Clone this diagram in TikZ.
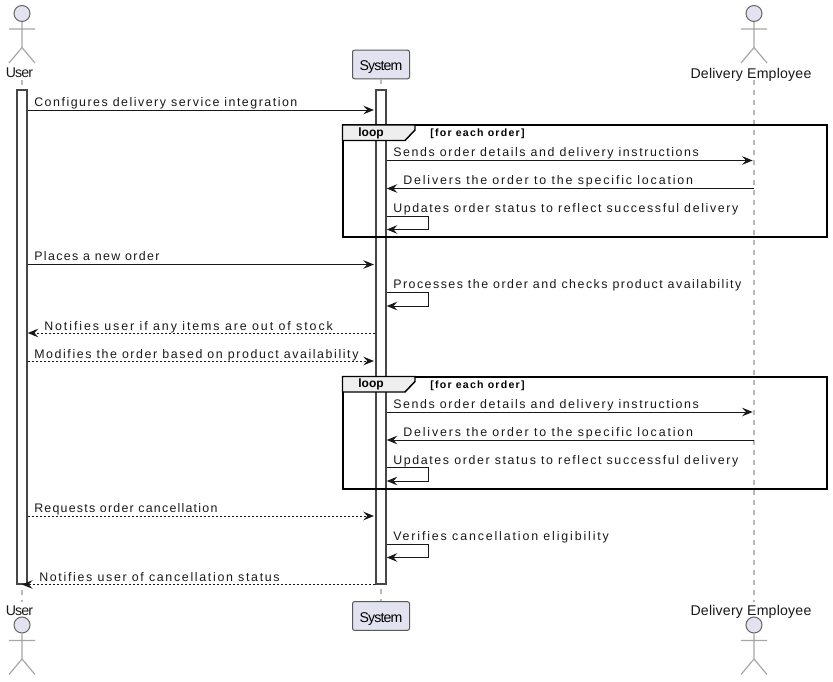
\documentclass[tikz,border=0pt]{standalone}
\usepackage{fontspec}
\setmainfont{Liberation Sans}
\newfontfamily\msgfont{Liberation Sans}[LetterSpace=12]
\newfontfamily\actorfont{Liberation Sans}[LetterSpace=-6]
\newfontfamily\actorwide{Liberation Sans}[LetterSpace=1.4]
\usetikzlibrary{arrows.meta, positioning}
\definecolor{actorfill}{HTML}{E2E2F0}
\definecolor{inkline}{HTML}{181818}
\definecolor{tabfill}{HTML}{EEEEEE}
\tikzset{x=0.75pt, y=-0.75pt,
msg/.style={draw=inkline, line width=0.75pt, -{Stealth[length=8pt, width=6.5pt, inset=3pt]}},
reply/.style={msg, dash pattern=on 1.5pt off 1.5pt},
tolife/.style={shorten >=1pt},
msgtext/.style={font=\msgfont\fontsize{9.3}{11}\selectfont\addfontfeature{LetterSpace=#1}, anchor=base west, inner sep=0pt, text=inkline},
msgtext/.default=12,
lifeline/.style={draw=gray!55, line width=1pt, dash pattern=on 3.75pt off 3.75pt},
actorlabel/.style={font=\actorfont\fontsize{10.6}{12}\selectfont, inner sep=0pt, text height=8.5pt, text depth=0pt, minimum height=12pt, text=inkline},
sysbox/.style={draw=gray!70!black, fill=actorfill, rounded corners=1.5pt, line width=0.75pt, minimum width=42.75pt, minimum height=21.5pt, inner sep=0pt, text height=9pt, text depth=0pt, font=\actorfont\fontsize{10.6}{12}\selectfont},
bar/.style={draw=inkline!80, fill=white, line width=1.1pt, minimum width=7.5pt, minimum height=370.5pt, inner sep=0pt},
frameline/.style={draw=black, line width=1.5pt},
looptab/.style={draw=black, fill=tabfill, line width=1.1pt},
loopword/.style={font=\bfseries\fontsize{9}{11}\selectfont, inner sep=0pt},
guardtext/.style={font=\msgfont\bfseries\fontsize{7.9}{10}\selectfont, anchor=base west, inner sep=0pt},
stickman/.pic={
\node[circle, draw=gray!80!black, fill=actorfill, line width=0.75pt, minimum size=12pt, inner sep=0pt] (-head) at (0,0) {};
\draw[gray!70, line width=0.9pt] (-head.south) -- (0,34) (-13,15.5) -- (13,15.5) (-13,49.5) -- (0,34) -- (13,49.5);
}}

\begin{document}
\begin{tikzpicture}
    \useasboundingbox (0,0) rectangle (833,682);

    % actors at the top and the foot
    \pic (usertop) at (22,13.5) {stickman};
    \pic (emptop) at (754,13.5) {stickman};
    \pic (userfoot) at (22,625) {stickman};
    \pic (empfoot) at (754,625) {stickman};
    \node[actorlabel] (userhead) at (19.5,72) {User};
    \node[actorlabel, font=\actorwide\fontsize{10.6}{12}\selectfont] (emphead) at (751,72.5) {Delivery Employee};
    \node[actorlabel] (userend) at (19.5,610) {User};
    \node[actorlabel, font=\actorwide\fontsize{10.6}{12}\selectfont] (empend) at (751,610) {Delivery Employee};
    \node[sysbox] (syshead) at (381,64.5) {System};
    \node[sysbox] (sysend) at (381,616) {System};

    % lifelines
    \draw[lifeline] (22,80) coordinate (usertopend) -- (usertopend |- userend.north);
    \draw[lifeline] (syshead) -- (sysend);
    \draw[lifeline] (754,80) coordinate (emptopend) -- (emptopend |- empend.north);

    % activation bars
    \node[bar] (userbar) at (22,337) {};
    \node[bar] (sysbar) at (381,337) {};

    % message rows
    \coordinate (r1) at (0,110);
    \coordinate (r2) at (0,264.5);
    \coordinate (r3) at (0,292);
    \coordinate (r4) at (0,306);
    \coordinate (r5) at (0,333);
    \coordinate (r6) at (0,361);
    \coordinate (r7) at (0,516);
    \coordinate (r8) at (0,544);
    \coordinate (r9) at (0,557.5);
    \coordinate (r10) at (0,584.5);

    % the two loop frames
    \foreach \n/\fy in {a/125, b/376.5} {
        \draw[frameline] (342.5,\fy) rectangle (827,\fy+112);
        \draw[looptab] (342.5,\fy) -- (415,\fy) -- (415,\fy+5) -- (405,\fy+15.5) -- (342.5,\fy+15.5) -- cycle;
        \node[loopword] (word\n) at (371,\fy+8) {loop};
        \node[guardtext] (guard\n) at (430,\fy+11.5) {[for each order]};
        \coordinate (s\n) at (0,\fy+35.5);
        \coordinate (d\n) at (0,\fy+63.5);
        \coordinate (u\n) at (0,\fy+91);
        \coordinate (v\n) at (0,\fy+104.5);
        \draw[msg, tolife] (sysbar.east |- s\n) -- (emptopend |- s\n);
        \draw[msg] (emptopend |- d\n) -- (sysbar.east |- d\n);
        \draw[msg] (sysbar.east |- u\n) -- ++(42,0) -- ([xshift=31.5pt]sysbar.east |- v\n) -- (sysbar.east |- v\n);
        \node[msgtext=12.9] (send\n) at (393,\fy+31.5) {Sends order details and delivery instructions};
        \node[msgtext=14.9] (deliver\n) at (403,\fy+59.5) {Delivers the order to the specific location};
        \node[msgtext=13.1] (update\n) at (393,\fy+87.5) {Updates order status to reflect successful delivery};
    }

    % messages
    \draw[msg, tolife] (userbar.east |- r1) -- (sysbar.west |- r1);
    \draw[msg, tolife] (userbar.east |- r2) -- (sysbar.west |- r2);
    \draw[msg] (sysbar.east |- r3) -- ++(42,0) -- ([xshift=31.5pt]sysbar.east |- r4) -- (sysbar.east |- r4);
    \draw[reply] (sysbar.west |- r5) -- (userbar.east |- r5);
    \draw[reply, tolife] (userbar.east |- r6) -- (sysbar.west |- r6);
    \draw[reply, tolife] (userbar.east |- r7) -- (sysbar.west |- r7);
    \draw[msg] (sysbar.east |- r8) -- ++(42,0) -- ([xshift=31.5pt]sysbar.east |- r9) -- (sysbar.east |- r9);
    \draw[reply] (sysbar.west |- r10) -- (usertopend |- r10);

    % message texts
    \node[msgtext=12.2] (t1) at (34,106) {Configures delivery service integration};
    \node[msgtext=11] (t2) at (34,260.5) {Places a new order};
    \node[msgtext] (t3) at (393,288.5) {Processes the order and checks product availability};
    \node[msgtext=15.5] (t4) at (44,330) {Notifies user if any items are out of stock};
    \node[msgtext=12.8] (t5) at (34,358) {Modifies the order based on product availability};
    \node[msgtext=9.9] (t6) at (34,512) {Requests order cancellation};
    \node[msgtext=15] (t7) at (393,540) {Verifies cancellation eligibility};
    \node[msgtext=13.6] (t8) at (39,581) {Notifies user of cancellation status};
\end{tikzpicture}
\end{document}
